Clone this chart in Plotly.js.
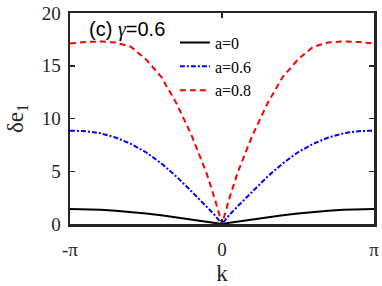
<!DOCTYPE html>
<html>
<head>
<meta charset="utf-8">
<script src="https://cdn.plot.ly/plotly-3.0.1.min.js"></script>
<style>html,body{margin:0;padding:0;background:#fff}#chart{width:382px;height:286px}</style>
</head>
<body>
<div id="chart"></div>
<script>
// k in units of pi
var kLeft = [-1, -0.9, -0.8, -0.7, -0.6, -0.5, -0.4, -0.3, -0.2, -0.15, -0.1, -0.05, 0];
var a0Left = [1.42, 1.40, 1.35, 1.26, 1.15, 1.00, 0.83, 0.64, 0.43, 0.33, 0.22, 0.11, 0];
var a06Left = [8.85, 8.80, 8.60, 8.20, 7.60, 6.80, 5.75, 4.50, 3.08, 2.35, 1.63, 0.88, 0];
var a08Left = [17.1, 17.25, 17.3, 17.2, 16.8, 15.6, 13.95, 11.45, 8.4, 6.6, 4.75, 2.5, 0];
var seriesNames = ["a=0", "a=0.6", "a=0.8"];
var xTickVals = [-1, 0, 1];
var xTickText = ["-π", "0", "π"];
var yTickVals = [0, 5, 10, 15, 20];

function mirrorX(l) { return l.concat(l.slice(0, -1).reverse().map(function (v) { return -v; })); }
function mirrorY(l) { return l.concat(l.slice(0, -1).reverse()); }
var k = mirrorX(kLeft);

var traces = [
  {x: k, y: mirrorY(a0Left), name: seriesNames[0], mode: "lines",
   line: {color: "#000000", width: 2}},
  {x: k, y: mirrorY(a06Left), name: seriesNames[1], mode: "lines",
   line: {color: "#0000ff", width: 2, dash: "5px,2px,2px,2px"}},
  {x: k, y: mirrorY(a08Left), name: seriesNames[2], mode: "lines",
   line: {color: "#ff0000", width: 2, dash: "6px,4px"}}
];

var serif = "Liberation Serif, Times New Roman, serif";
var layout = {
  width: 382, height: 286,
  margin: {l: 70, r: 8, t: 13, b: 62},
  paper_bgcolor: "#ffffff", plot_bgcolor: "#ffffff",
  showlegend: true,
  legend: {x: 0.345, y: 0.94, xanchor: "left", yanchor: "top",
           bgcolor: "rgba(0,0,0,0)", font: {family: serif, size: 16, color: "#000"},
           tracegroupgap: 0, itemwidth: 30},
  xaxis: {range: [-1, 1], tickvals: xTickVals, ticktext: xTickText,
          showline: true, mirror: "ticks", linecolor: "#262626", linewidth: 2.5,
          ticks: "inside", ticklen: 5, tickwidth: 1.5, tickcolor: "#262626",
          showgrid: false, zeroline: false, ticklabelstandoff: 7,
          tickfont: {family: serif, size: 19, color: "#262626"},
          title: {text: "k", font: {family: serif, size: 23, color: "#262626"}, standoff: 6}},
  yaxis: {range: [0, 20], tickvals: yTickVals,
          showline: true, mirror: "ticks", linecolor: "#262626", linewidth: 2.5,
          ticks: "inside", ticklen: 5, tickwidth: 1.5, tickcolor: "#262626",
          showgrid: false, zeroline: false, ticklabelstandoff: 3,
          tickfont: {family: serif, size: 19, color: "#262626"},
          title: {text: "δe<sub>1</sub>", font: {family: serif, size: 23, color: "#262626"}, standoff: 12}},
  annotations: [{
    xref: "paper", yref: "paper", x: 0.055, y: 0.92, xanchor: "left", yanchor: "middle",
    showarrow: false,
    text: "(c) <span style=\"font-family:'Liberation Serif'\"><i>γ</i></span>=0.6",
    font: {family: "Liberation Sans, Arial, sans-serif", size: 20, color: "#000"}
  }]
};

Plotly.newPlot("chart", traces, layout, {staticPlot: true, displayModeBar: false});
</script>
</body>
</html>
